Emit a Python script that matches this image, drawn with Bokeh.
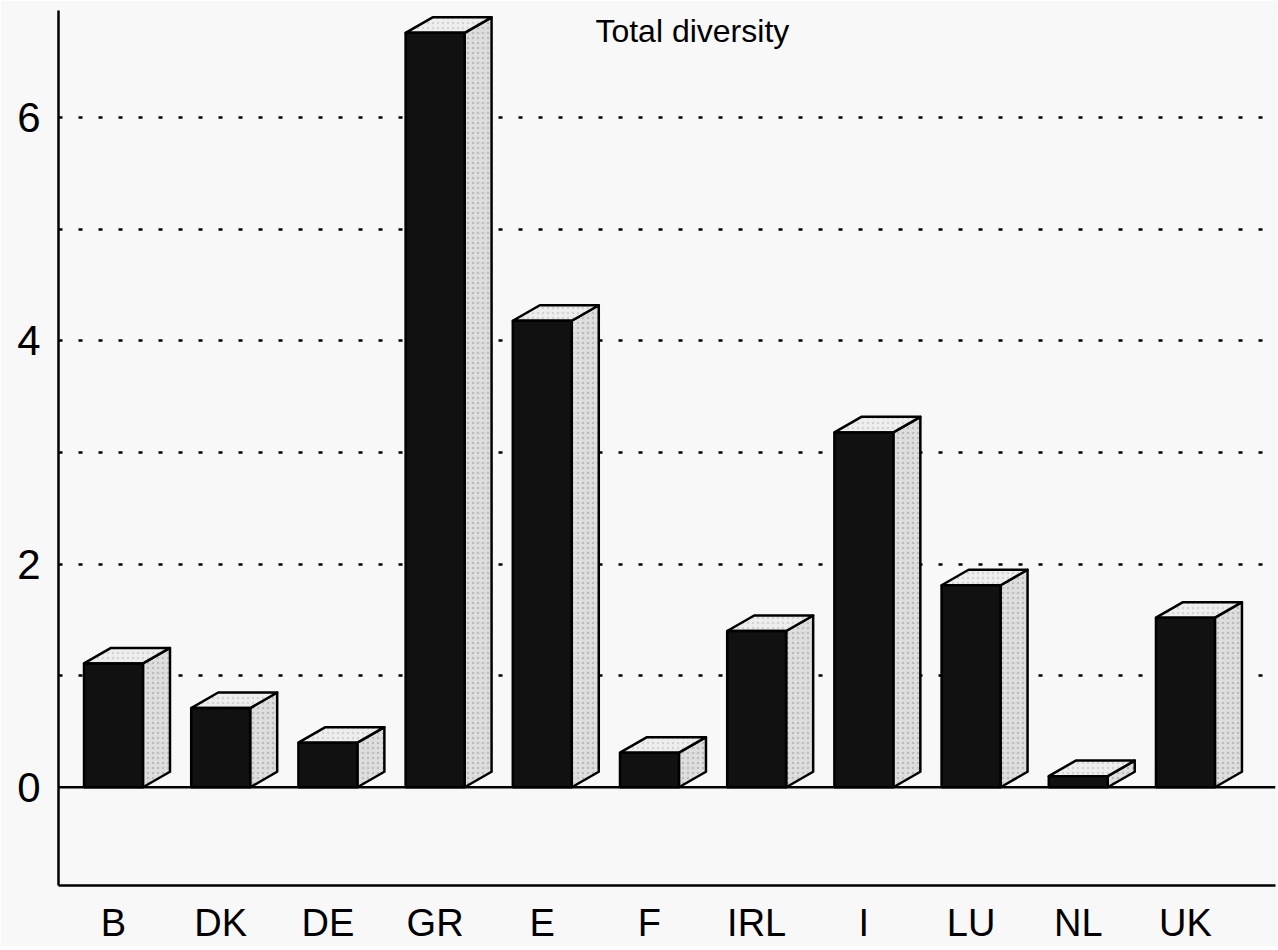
import numpy as np
from bokeh.plotting import figure
from bokeh.models import Range1d, FixedTicker, Span, Label, ColumnDataSource
from bokeh.embed import file_html
from bokeh.resources import INLINE

# ---- data ----
countries = ["B", "DK", "DE", "GR", "E", "F", "IRL", "I", "LU", "NL", "UK"]
values = [1.11, 0.71, 0.40, 6.76, 4.18, 0.31, 1.40, 3.18, 1.81, 0.10, 1.52]
y_tick_values = [0, 2, 4, 6]
grid_levels = [1, 2, 3, 4, 5, 6]
title_text = "Total diversity"

# ---- geometry of the pseudo-3D bars (styling) ----
W = 0.55     # front face width (x units)
DX = 0.252   # depth offset in x
DY = 0.139   # depth offset in y

xs = np.arange(len(countries), dtype=float)
vals = np.array(values, dtype=float)

FONT = "Liberation Sans"
BG = "#f8f8f8"

p = figure(
    frame_width=1217, frame_height=875,
    x_range=Range1d(-0.513, 10.84), y_range=Range1d(-0.88, 6.96),
    output_backend="svg", toolbar_location=None,
    min_border_left=58, min_border_right=2, min_border_top=10, min_border_bottom=50,
    background_fill_color=BG, border_fill_color=BG, outline_line_color=None,
)

# grid
p.xgrid.visible = False
p.ygrid.ticker = FixedTicker(ticks=grid_levels)
p.ygrid.grid_line_color = "black"
p.ygrid.grid_line_width = 2.5
p.ygrid.grid_line_dash = "4 16"

# baseline at zero
p.add_layout(Span(location=0, dimension="width", line_color="black", line_width=2.5, level="underlay"))

# side faces
side_src = ColumnDataSource(dict(
    xs=[[x + W / 2, x + W / 2 + DX, x + W / 2 + DX, x + W / 2] for x in xs],
    ys=[[0, DY, v + DY, v] for v in vals],
))
p.patches("xs", "ys", source=side_src, fill_color="#dedede", line_color="black",
          line_width=2.5, line_join="round",
          hatch_pattern="dot", hatch_color="#9a9a9a", hatch_scale=5, hatch_alpha=0.5)

# top faces
top_src = ColumnDataSource(dict(
    xs=[[x - W / 2, x + W / 2, x + W / 2 + DX, x - W / 2 + DX] for x in xs],
    ys=[[v, v, v + DY, v + DY] for v in vals],
))
p.patches("xs", "ys", source=top_src, fill_color="#eeeeee", line_color="black",
          line_width=2.5, line_join="round",
          hatch_pattern="dot", hatch_color="#aaaaaa", hatch_scale=5, hatch_alpha=0.4)

# front faces
p.vbar(x=xs, width=W, top=vals, bottom=0, fill_color="#111111", line_color="black", line_width=2.5)

# axes
p.yaxis.ticker = FixedTicker(ticks=y_tick_values)
p.yaxis.axis_line_width = 2.5
p.yaxis.axis_line_color = "black"
p.yaxis.major_tick_out = 0
p.yaxis.major_tick_in = 0
p.yaxis.minor_tick_out = 0
p.yaxis.minor_tick_in = 0
p.yaxis.major_label_text_font = FONT
p.yaxis.major_label_text_font_size = "42px"
p.yaxis.major_label_text_color = "black"
p.yaxis.major_label_standoff = 18

p.xaxis.ticker = FixedTicker(ticks=list(xs))
p.xaxis.major_label_overrides = {int(i): c for i, c in enumerate(countries)}
p.xaxis.axis_line_width = 2.5
p.xaxis.axis_line_color = "black"
p.xaxis.major_tick_out = 0
p.xaxis.major_tick_in = 0
p.xaxis.minor_tick_out = 0
p.xaxis.minor_tick_in = 0
p.xaxis.major_label_text_font = FONT
p.xaxis.major_label_text_font_size = "38px"
p.xaxis.major_label_text_color = "black"
p.xaxis.major_label_standoff = 16

# title (partly cut in the scan, placed at the top of the frame)
p.add_layout(Label(x=5.4, y=6.96, text=title_text, text_align="center", text_baseline="top",
                   text_font=FONT, text_font_size="32px", text_color="black", y_offset=-2))

open("out.html", "w").write(file_html(p, INLINE))
